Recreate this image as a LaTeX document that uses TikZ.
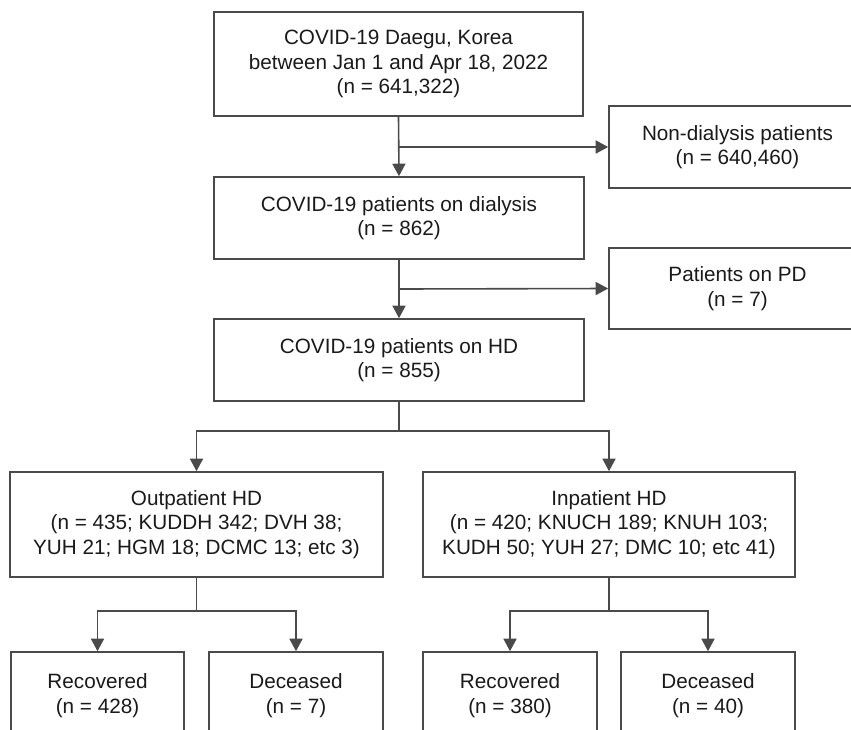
\documentclass[tikz,border=0pt]{standalone}
\usepackage{fontspec}
\setmainfont{Liberation Sans}
\usetikzlibrary{arrows.meta}
\definecolor{ln}{HTML}{4A4A4A}
\definecolor{tx}{HTML}{1A1A1A}
\tikzset{
  box/.style={draw=ln, line width=1.6pt, rectangle, align=center, inner sep=0pt,
    font=\fontsize{20.7}{24.5}\selectfont, text=tx},
  conn/.style={draw=ln, line width=1.6pt},
  arr/.style={conn, -{Triangle[length=12.5pt,width=13pt]}}
}
\begin{document}
\begin{tikzpicture}[x=1pt,y=-1pt]
\clip (0,0) rectangle (851,729);
\fill[white] (0,0) rectangle (851,729);
\node[box, minimum width=369pt, minimum height=104pt] (top) at (398.5,64)
  {COVID-19 Daegu, Korea\\between Jan 1 and Apr 18, 2022\\(n = 641,322)};
\node[box, minimum width=257pt, minimum height=82pt] (nondial) at (737.5,147)
  {Non-dialysis patients\\(n = 640,460)};
\node[box, minimum width=370pt, minimum height=82pt] (dial) at (399,218)
  {COVID-19 patients on dialysis\\(n = 862)};
\node[box, minimum width=257pt, minimum height=81pt] (pd) at (737.5,288.5)
  {Patients on PD\\(n = 7)};
\node[box, minimum width=370pt, minimum height=82pt] (hd) at (399,360)
  {COVID-19 patients on HD\\(n = 855)};
\node[box, minimum width=373pt, minimum height=105pt] (out) at (196.5,524.5)
  {Outpatient HD\\(n = 435; KUDDH 342; DVH 38;\\YUH 21; HGM 18; DCMC 13; etc 3)};
\node[box, minimum width=372pt, minimum height=105pt] (inp) at (609,524.5)
  {Inpatient HD\\(n = 420; KNUCH 189; KNUH 103;\\KUDH 50; YUH 27; DMC 10; etc 41)};
\node[box, minimum width=173pt, minimum height=87pt] (rec1) at (97.5,695.5)
  {Recovered\\(n = 428)};
\node[box, minimum width=174pt, minimum height=87pt] (del1) at (296,695.5)
  {Deceased\\(n = 7)};
\node[box, minimum width=174pt, minimum height=87pt] (rec2) at (510,695.5)
  {Recovered\\(n = 380)};
\node[box, minimum width=174pt, minimum height=87pt] (del2) at (708,695.5)
  {Deceased\\(n = 40)};
% connectors
\draw[arr] (top.south) -- (dial.north);
\coordinate (j1) at (399,147);
\draw[arr] (j1) -- (nondial.west);
\draw[arr] (dial.south) -- (hd.north);
\coordinate (j2) at (399,289);
\draw[arr] (j2) -- (pd.west);
\coordinate (j3) at (399,431);
\draw[conn] (hd.south) -- (j3);
\draw[arr] (j3) -| (out.north);
\draw[arr] (j3) -| (inp.north);
\coordinate (j4) at (196.5,611);
\draw[conn] (out.south) -- (j4);
\draw[arr] (j4) -| (rec1.north);
\draw[arr] (j4) -| (del1.north);
\coordinate (j5) at (609,611);
\draw[conn] (inp.south) -- (j5);
\draw[arr] (j5) -| (rec2.north);
\draw[arr] (j5) -| (del2.north);
\end{tikzpicture}
\end{document}
